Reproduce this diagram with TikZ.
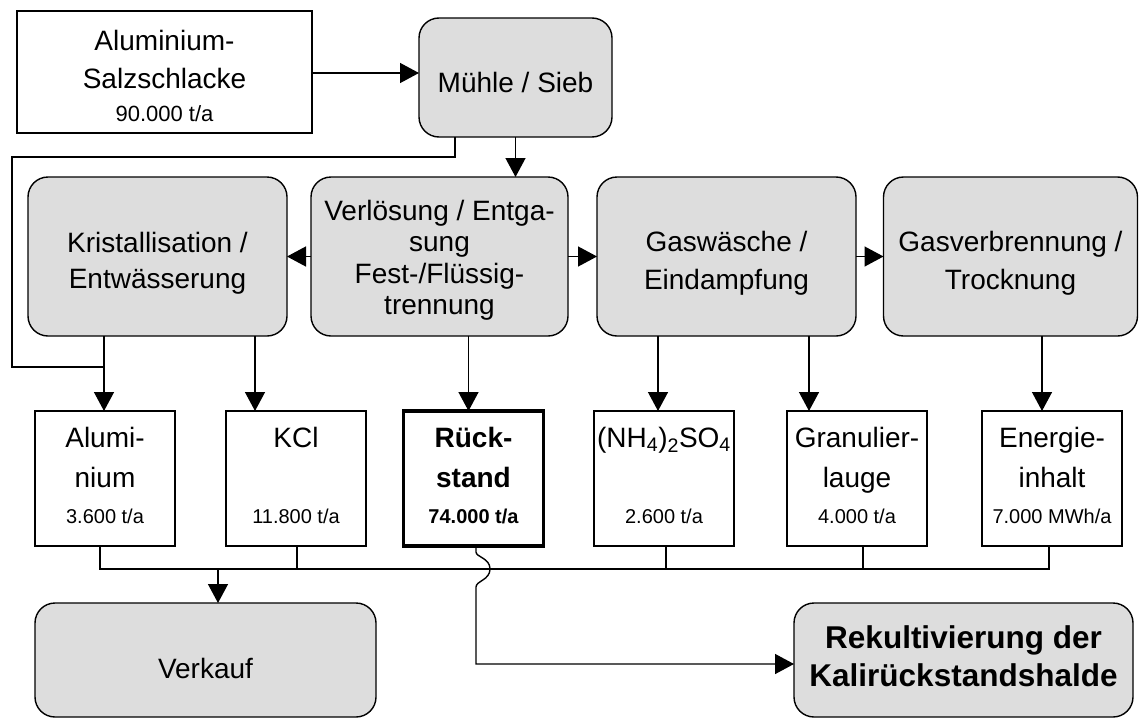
\documentclass[tikz,border=0pt]{standalone}
\usepackage{fontspec}
\setmainfont{Liberation Sans}
\usetikzlibrary{arrows.meta,calc}
\definecolor{boxgray}{RGB}{221,221,221}
\begin{document}
\begin{tikzpicture}[x=1pt,y=-1pt,
  every node/.style={inner sep=0pt, outer sep=0pt},
  proc/.style={draw, line width=1.4pt, fill=boxgray, rounded corners=20pt},
  srcbox/.style={draw, line width=1.4pt, fill=white},
  prod/.style={draw, line width=1.4pt, fill=white, minimum width=140pt, minimum height=135pt},
  big/.style={font=\fontsize{28}{34}\selectfont, anchor=base},
  mid/.style={font=\fontsize{22}{26}\selectfont, anchor=base},
  small/.style={font=\fontsize{20}{24}\selectfont, anchor=base},
  con/.style={line width=1.4pt},
  arr/.style={line width=1.4pt, -{Triangle[length=19pt,width=20pt]}},
]
\useasboundingbox (0,0) rectangle (1139,720);

% ---- boxes
\node[srcbox, minimum width=295pt, minimum height=122pt] (src) at (164.5,72) {};
\node[proc, minimum width=193pt, minimum height=119pt] (muehle) at (515.5,77.5) {};
\node[proc, minimum width=259pt, minimum height=159pt] (krist) at (157.5,256.5) {};
\node[proc, minimum width=257pt, minimum height=159pt] (verl) at (439.5,256.5) {};
\node[proc, minimum width=259pt, minimum height=159pt] (gasw) at (726.5,256.5) {};
\node[proc, minimum width=254pt, minimum height=159pt] (gasv) at (1010.5,256.5) {};
\node[prod] (alu) at (105,478.5) {};
\node[prod] (kcl) at (296,478.5) {};
\node[prod, line width=3.5pt] (rueck) at (473.5,478.5) {};
\node[prod] (nh4) at (664,478.5) {};
\node[prod] (gran) at (857,478.5) {};
\node[prod] (energ) at (1052,478.5) {};
\node[proc, minimum width=341pt, minimum height=114pt] (verkauf) at (205.5,660) {};
\node[proc, minimum width=339pt, minimum height=114pt] (rek) at (963.5,660) {};

% ---- texts
\node[big] (t1) at (164.5,50) {Aluminium-};
\node[big] (t2) at (164.5,88) {Salzschlacke};
\node[mid] (t3) at (164.5,121) {90.000 t/a};
\node[big] (t4) at (515.5,92) {Mühle / Sieb};
\node[big] (t5) at (157.5,252) {Kristallisation /};
\node[big] (t6) at (157.5,288) {Entwässerung};
\node[big] (t7) at (439.5,220) {Verlösung / Entga-};
\node[big] (t8) at (439.5,251.5) {sung};
\node[big] (t9) at (439.5,283) {Fest-/Flüssig-};
\node[big] (t10) at (439.5,314.5) {trennung};
\node[big] (t11) at (726.5,251) {Gaswäsche /};
\node[big] (t12) at (726.5,289) {Eindampfung};
\node[big] (t13) at (1010.5,251) {Gasverbrennung /};
\node[big] (t14) at (1010.5,289) {Trocknung};

\node[big] (a1) at (105,447) {Alumi-};
\node[big] (a2) at (105,487) {nium};
\node[small] (a3) at (105,523) {3.600 t/a};
\node[big] (k1) at (296,447) {KCl};
\node[small] (k3) at (296,523) {11.800 t/a};
\node[big, font=\fontsize{28}{34}\selectfont\bfseries] (r1) at (473.5,447) {Rück-};
\node[big, font=\fontsize{28}{34}\selectfont\bfseries] (r2) at (473.5,487) {stand};
\node[small, font=\fontsize{20}{24}\selectfont\bfseries] (r3) at (473.5,523) {74.000 t/a};
\node[big] (n1) at (664,447) {(NH\textsubscript{4})\textsubscript{2}SO\textsubscript{4}};
\node[small] (n3) at (664,523) {2.600 t/a};
\node[big] (g1) at (857,447) {Granulier-};
\node[big] (g2) at (857,487) {lauge};
\node[small] (g3) at (857,523) {4.000 t/a};
\node[big] (e1) at (1052,447) {Energie-};
\node[big] (e2) at (1052,487) {inhalt};
\node[small] (e3) at (1052,523) {7.000 MWh/a};
\node[big] (v1) at (205.5,678) {Verkauf};
\node[big, font=\fontsize{31.5}{36}\selectfont\bfseries] (rk1) at (963.5,648) {Rekultivierung der};
\node[big, font=\fontsize{31.5}{36}\selectfont\bfseries] (rk2) at (963.5,686) {Kalirückstandshalde};

% ---- helper coordinates
\coordinate (bypx) at (455,0);
\coordinate (byA) at (12,157);
\coordinate (byB) at (12,367);
\coordinate (xa) at (104,0);
\coordinate (xk) at (255,0);
\coordinate (xr) at (468.5,0);
\coordinate (xn) at (658,0);
\coordinate (xg) at (809,0);
\coordinate (xe) at (1042,0);
\coordinate (s1) at (100,0);
\coordinate (s2) at (297,0);
\coordinate (s3) at (666,0);
\coordinate (s4) at (863,0);
\coordinate (s5) at (1049,0);
\coordinate (sv) at (218,0);
\coordinate (sr) at (476,0);
\coordinate (bus) at (0,569);
\coordinate (ry) at (0,664);

% ---- connectors
\draw[arr] (src.east |- 0,73) -- (muehle.west |- 0,73);
\draw[arr] (muehle.south) -- (muehle.south |- verl.north);
\draw[con] (muehle.south -| bypx) -- (bypx |- byA) -- (byA) -- (byB) -- (xa |- byB);
\draw[arr] (verl.west) -- (krist.east);
\draw[arr] (verl.east) -- (gasw.west);
\draw[arr] (gasw.east) -- (gasv.west);
\draw[arr] (krist.south -| xa) -- (alu.north -| xa);
\draw[arr] (krist.south -| xk) -- (kcl.north -| xk);
\draw[arr] (verl.south -| xr) -- (rueck.north -| xr);
\draw[arr] (gasw.south -| xn) -- (nh4.north -| xn);
\draw[arr] (gasw.south -| xg) -- (gran.north -| xg);
\draw[arr] (gasv.south -| xe) -- (energ.north -| xe);

% bus to Verkauf
\draw[con] (alu.south -| s1) -- (s1 |- bus) -- (s5 |- bus) -- (energ.south -| s5);
\draw[con] (kcl.south -| s2) -- (s2 |- bus);
\draw[con] (nh4.south -| s3) -- (s3 |- bus);
\draw[con] (gran.south -| s4) -- (s4 |- bus);
\draw[arr] (sv |- bus) -- (verkauf.north -| sv);

% Rueckstand with line hop
\draw[arr] (rueck.south -| sr) -- ($(sr |- bus)+(0,-17)$)
  .. controls ($(sr |- bus)+(0,-12)$) and ($(sr |- bus)+(14,-11)$) .. ($(sr |- bus)+(14,0)$)
  .. controls ($(sr |- bus)+(14,11)$) and ($(sr |- bus)+(0,12)$) .. ($(sr |- bus)+(0,18)$)
  -- (sr |- ry) -- (rek.west |- ry);
\end{tikzpicture}
\end{document}
